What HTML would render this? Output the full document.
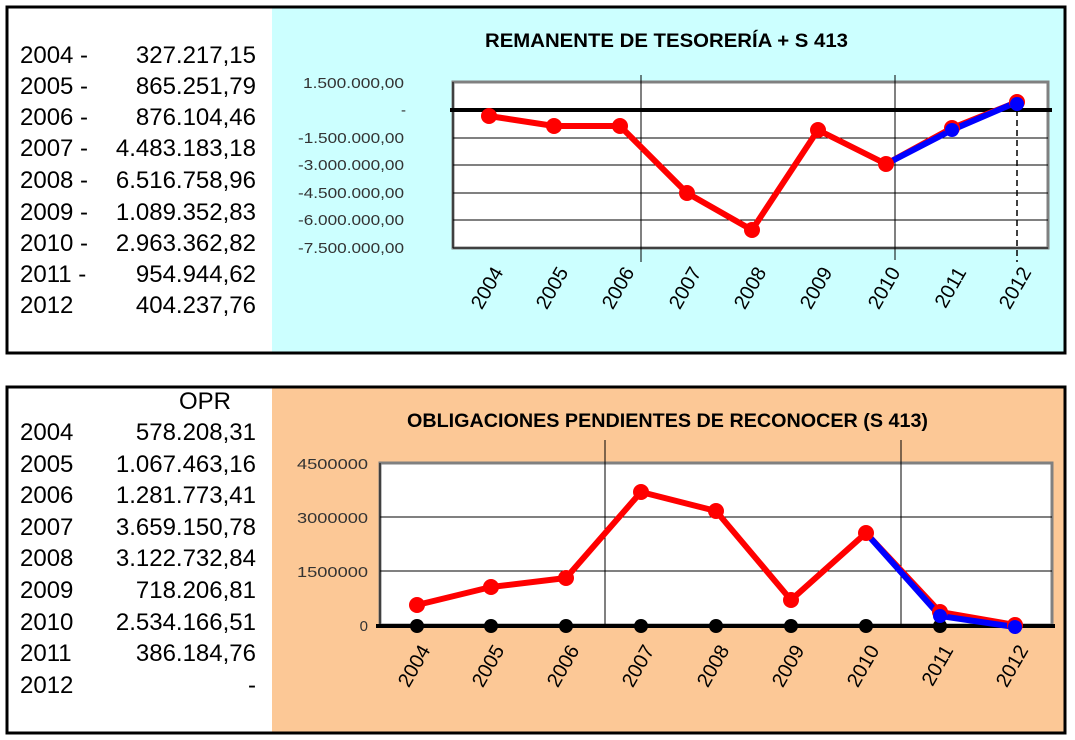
<!DOCTYPE html>
<html><head><meta charset="utf-8"><style>
body{margin:0;background:#fff;width:1075px;height:740px;overflow:hidden;font-family:"Liberation Sans",sans-serif}
svg{position:absolute;left:0;top:0}
</style></head><body>
<svg width="1075" height="740" xmlns="http://www.w3.org/2000/svg" font-family="Liberation Sans, sans-serif">
<!-- TOP PANEL -->
<rect x="272" y="7" width="793" height="346" fill="#ccffff"/>
<rect x="7" y="7" width="1058" height="346" fill="none" stroke="#000" stroke-width="3"/>
<g font-size="24" fill="#000">
<text x="20" y="63">2004  -</text><text x="256" y="63" text-anchor="end">327.217,15</text>
<text x="20" y="94">2005  -</text><text x="256" y="94" text-anchor="end">865.251,79</text>
<text x="20" y="125">2006  -</text><text x="256" y="125" text-anchor="end">876.104,46</text>
<text x="20" y="156">2007  -</text><text x="256" y="156" text-anchor="end">4.483.183,18</text>
<text x="20" y="188">2008  -</text><text x="256" y="188" text-anchor="end">6.516.758,96</text>
<text x="20" y="220">2009  -</text><text x="256" y="220" text-anchor="end">1.089.352,83</text>
<text x="20" y="251">2010  -</text><text x="256" y="251" text-anchor="end">2.963.362,82</text>
<text x="20" y="282">2011  -</text><text x="256" y="282" text-anchor="end">954.944,62</text>
<text x="20" y="313">2012</text><text x="256" y="313" text-anchor="end">404.237,76</text>
</g>
<text x="485" y="47" font-size="19" font-weight="bold" textLength="363" lengthAdjust="spacingAndGlyphs">REMANENTE DE TESORERÍA + S 413</text>
<rect x="453" y="82" width="595" height="166" fill="#fff" stroke="#808080" stroke-width="3"/>
<g stroke="#000" stroke-width="1">
<line x1="453" y1="138" x2="1048" y2="138"/><line x1="453" y1="165" x2="1048" y2="165"/>
<line x1="453" y1="193" x2="1048" y2="193"/><line x1="453" y1="220" x2="1048" y2="220"/>
<line x1="453" y1="248" x2="1048" y2="248"/><line x1="453" y1="82" x2="453" y2="248"/>
<line x1="641" y1="75" x2="641" y2="262"/><line x1="895" y1="75" x2="895" y2="260"/>
</g>
<line x1="1017" y1="110" x2="1017" y2="262" stroke="#000" stroke-width="1.5" stroke-dasharray="6,4"/>
<line x1="450" y1="110" x2="1052" y2="110" stroke="#000" stroke-width="4"/>
<g font-size="15" fill="#333" lengthAdjust="spacingAndGlyphs">
<text x="303" y="88" textLength="101" lengthAdjust="spacingAndGlyphs">1.500.000,00</text>
<text x="401" y="115">-</text>
<text x="298" y="143" textLength="106" lengthAdjust="spacingAndGlyphs">-1.500.000,00</text>
<text x="298" y="170" textLength="106" lengthAdjust="spacingAndGlyphs">-3.000.000,00</text>
<text x="298" y="198" textLength="106" lengthAdjust="spacingAndGlyphs">-4.500.000,00</text>
<text x="298" y="225" textLength="106" lengthAdjust="spacingAndGlyphs">-6.000.000,00</text>
<text x="298" y="253" textLength="106" lengthAdjust="spacingAndGlyphs">-7.500.000,00</text>
</g>
<polyline points="489,116 554,126 620,126 687,193 752,230 818,130 886,164 952,128 1017,102" fill="none" stroke="#ff0000" stroke-width="6" stroke-linejoin="round"/>
<polyline points="886,164 952,130 1017,102" fill="none" stroke="#0000ff" stroke-width="6"/>
<g fill="#ff0000">
<circle cx="489" cy="116" r="8"/><circle cx="554" cy="126" r="8"/><circle cx="620" cy="126" r="8"/>
<circle cx="687" cy="193" r="8"/><circle cx="752" cy="230" r="8"/><circle cx="818" cy="130" r="8"/>
<circle cx="886" cy="164" r="8"/><circle cx="952" cy="128" r="8"/><circle cx="1017" cy="102" r="8"/>
</g>
<g fill="#0000ff"><circle cx="952" cy="130" r="7"/><circle cx="1017" cy="104" r="7"/></g>
<g font-size="20" fill="#000">
<text transform="translate(504,272) rotate(-60)" text-anchor="end">2004</text>
<text transform="translate(569,272) rotate(-60)" text-anchor="end">2005</text>
<text transform="translate(635,272) rotate(-60)" text-anchor="end">2006</text>
<text transform="translate(702,272) rotate(-60)" text-anchor="end">2007</text>
<text transform="translate(767,272) rotate(-60)" text-anchor="end">2008</text>
<text transform="translate(833,272) rotate(-60)" text-anchor="end">2009</text>
<text transform="translate(901,272) rotate(-60)" text-anchor="end">2010</text>
<text transform="translate(967,272) rotate(-60)" text-anchor="end">2011</text>
<text transform="translate(1032,272) rotate(-60)" text-anchor="end">2012</text>
</g>

<!-- BOTTOM PANEL -->
<rect x="272" y="387" width="793" height="346" fill="#fcc896"/>
<rect x="7" y="387" width="1058" height="346" fill="none" stroke="#000" stroke-width="3"/>
<g font-size="24" fill="#000">
<text x="205" y="409" text-anchor="middle">OPR</text>
<text x="20" y="440">2004</text><text x="256" y="440" text-anchor="end">578.208,31</text>
<text x="20" y="472">2005</text><text x="256" y="472" text-anchor="end">1.067.463,16</text>
<text x="20" y="503">2006</text><text x="256" y="503" text-anchor="end">1.281.773,41</text>
<text x="20" y="535">2007</text><text x="256" y="535" text-anchor="end">3.659.150,78</text>
<text x="20" y="566">2008</text><text x="256" y="566" text-anchor="end">3.122.732,84</text>
<text x="20" y="598">2009</text><text x="256" y="598" text-anchor="end">718.206,81</text>
<text x="20" y="630">2010</text><text x="256" y="630" text-anchor="end">2.534.166,51</text>
<text x="20" y="661">2011</text><text x="256" y="661" text-anchor="end">386.184,76</text>
<text x="20" y="693">2012</text><text x="256" y="693" text-anchor="end">-</text>
</g>
<text x="407" y="427" font-size="19" font-weight="bold" textLength="521" lengthAdjust="spacingAndGlyphs">OBLIGACIONES PENDIENTES DE RECONOCER (S 413)</text>
<rect x="380" y="463" width="672" height="162" fill="#fff" stroke="#808080" stroke-width="3"/>
<g stroke="#000" stroke-width="1">
<line x1="380" y1="517" x2="1052" y2="517"/><line x1="380" y1="571" x2="1052" y2="571"/>
<line x1="380" y1="463" x2="380" y2="625"/>
<line x1="605" y1="440" x2="605" y2="625"/><line x1="901" y1="440" x2="901" y2="625"/>
</g>
<line x1="376" y1="626" x2="1055" y2="626" stroke="#000" stroke-width="4"/>
<g font-size="15" fill="#333">
<text x="297" y="469" textLength="71" lengthAdjust="spacingAndGlyphs">4500000</text>
<text x="297" y="523" textLength="71" lengthAdjust="spacingAndGlyphs">3000000</text>
<text x="297" y="577" textLength="71" lengthAdjust="spacingAndGlyphs">1500000</text>
<text x="368" y="631" text-anchor="end">0</text>
</g>
<g fill="#000">
<circle cx="417" cy="626" r="7"/><circle cx="491" cy="626" r="7"/><circle cx="566" cy="626" r="7"/>
<circle cx="641" cy="626" r="7"/><circle cx="716" cy="626" r="7"/><circle cx="791" cy="626" r="7"/>
<circle cx="866" cy="626" r="7"/><circle cx="940" cy="626" r="7"/>
</g>
<polyline points="417,605 491,587 566,578 641,492 716,511 791,600 866,533 940,612 1015,625" fill="none" stroke="#ff0000" stroke-width="6" stroke-linejoin="round"/>
<polyline points="866,533 940,616 1015,627" fill="none" stroke="#0000ff" stroke-width="6"/>
<g fill="#ff0000">
<circle cx="417" cy="605" r="8"/><circle cx="491" cy="587" r="8"/><circle cx="566" cy="578" r="8"/>
<circle cx="641" cy="492" r="8"/><circle cx="716" cy="511" r="8"/><circle cx="791" cy="600" r="8"/>
<circle cx="866" cy="533" r="8"/><circle cx="940" cy="612" r="8"/><circle cx="1015" cy="625" r="8"/>
</g>
<g fill="#0000ff"><circle cx="940" cy="616" r="7"/><circle cx="1015" cy="627" r="7"/></g>
<g font-size="20" fill="#000">
<text transform="translate(431,650) rotate(-60)" text-anchor="end">2004</text>
<text transform="translate(505,650) rotate(-60)" text-anchor="end">2005</text>
<text transform="translate(580,650) rotate(-60)" text-anchor="end">2006</text>
<text transform="translate(655,650) rotate(-60)" text-anchor="end">2007</text>
<text transform="translate(730,650) rotate(-60)" text-anchor="end">2008</text>
<text transform="translate(805,650) rotate(-60)" text-anchor="end">2009</text>
<text transform="translate(880,650) rotate(-60)" text-anchor="end">2010</text>
<text transform="translate(954,650) rotate(-60)" text-anchor="end">2011</text>
<text transform="translate(1029,650) rotate(-60)" text-anchor="end">2012</text>
</g>
</svg>
</body></html>
